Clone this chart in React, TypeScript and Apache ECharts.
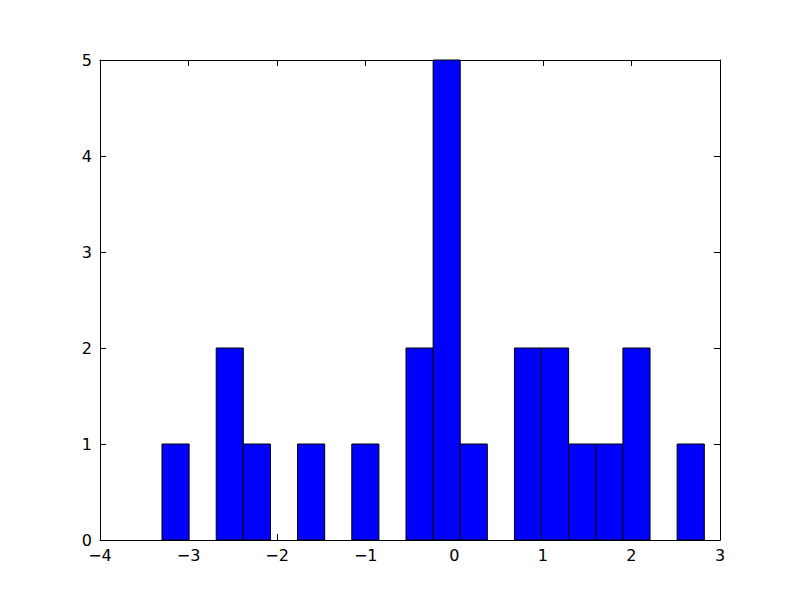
import React, { useEffect, useRef } from "react";
import * as echarts from "echarts";

const binEdges = [
  -3.300, -2.994, -2.688, -2.382, -2.076, -1.770, -1.463, -1.157, -0.851, -0.545,
  -0.239, 0.067, 0.373, 0.679, 0.985, 1.291, 1.598, 1.904, 2.210, 2.516, 2.823,
];
const counts = [1, 0, 2, 1, 0, 1, 0, 1, 0, 2, 5, 1, 0, 2, 2, 1, 1, 2, 0, 1];
const xTicks = { min: -4, max: 3, interval: 1 };
const yTicks = { min: 0, max: 5, interval: 1 };

const fmt = (v: number) => (v < 0 ? "\u2212" + Math.abs(v) : String(v));

export default function App() {
  const ref = useRef<HTMLDivElement>(null);
  useEffect(() => {
    if (!ref.current) return;
    const chart = echarts.init(ref.current, undefined, { renderer: "svg" });
    const data = counts.map((c, i) => [binEdges[i], binEdges[i + 1], c]);
    const font = "DejaVu Sans";
    const axisCommon = {
      axisLine: { show: true, onZero: false, lineStyle: { color: "#000", width: 1 } },
      axisTick: { show: true, inside: true, length: 6, lineStyle: { color: "#000", width: 1 } },
      splitLine: { show: false },
    };
    chart.setOption({
      animation: false,
      backgroundColor: "#fff",
      grid: { left: 100, right: 80, top: 60, bottom: 60, containLabel: false },
      xAxis: [
        {
          type: "value",
          position: "bottom",
          ...xTicks,
          ...axisCommon,
          axisLabel: { color: "#000", fontFamily: font, fontSize: 16, margin: 7, formatter: fmt },
        },
        {
          type: "value",
          position: "top",
          ...xTicks,
          ...axisCommon,
          axisLabel: { show: false },
        },
      ],
      yAxis: [
        {
          type: "value",
          position: "left",
          ...yTicks,
          ...axisCommon,
          axisLabel: { color: "#000", fontFamily: font, fontSize: 16, margin: 8, formatter: fmt },
        },
        {
          type: "value",
          position: "right",
          ...yTicks,
          ...axisCommon,
          axisLabel: { show: false },
        },
      ],
      series: [
        {
          type: "custom",
          xAxisIndex: 0,
          yAxisIndex: 0,
          encode: { x: [0, 1], y: 2 },
          data,
          renderItem: (params: any, api: any) => {
            const x0 = api.value(0);
            const x1 = api.value(1);
            const c = api.value(2);
            if (!c) return null;
            const p0 = api.coord([x0, c]);
            const p1 = api.coord([x1, 0]);
            return {
              type: "rect",
              shape: { x: p0[0], y: p0[1], width: p1[0] - p0[0], height: p1[1] - p0[1] },
              style: { fill: "#0000ff", stroke: "#000", lineWidth: 1 },
            };
          },
        },
      ],
    });
    return () => chart.dispose();
  }, []);
  return (
    <div
      ref={ref}
      style={{ position: "fixed", left: 0, top: 0, width: 800, height: 600, background: "#fff" }}
    />
  );
}
